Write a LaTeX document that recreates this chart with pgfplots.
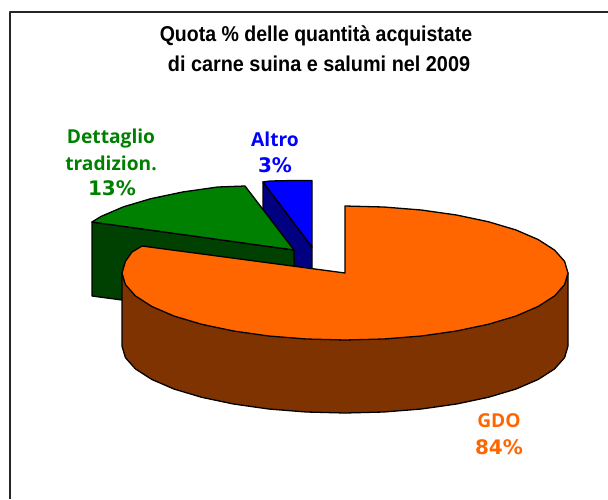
\documentclass[border=0pt]{standalone}
\usepackage{pgfplots}
\usepackage{fontspec}
\pgfplotsset{compat=1.18}
\setmainfont{Liberation Sans}
\newfontfamily\lab{Open Sans}
\newfontfamily\num{DejaVu Sans}
\newfontfamily\tita[FakeStretch=0.908]{Liberation Sans}
\newfontfamily\titb[FakeStretch=0.923]{Liberation Sans}
\definecolor{og}{HTML}{FF6600}
\definecolor{br}{HTML}{7F3300}
\definecolor{gn}{HTML}{008000}
\definecolor{dgn}{HTML}{004000}
\definecolor{bl}{HTML}{0000FF}
\definecolor{dbl}{HTML}{000080}
\tikzset{
  lbl/.style={font=\lab\bfseries\fontsize{19.2}{19.2}\selectfont},
  nbl/.style={font=\num\bfseries\fontsize{20}{20}\selectfont},
}
\begin{document}
\begin{tikzpicture}
\begin{axis}[
  scale only axis, width=608pt, height=499pt,
  xmin=0, xmax=608, ymin=0, ymax=499, y dir=reverse,
  hide axis, clip=true,
  every axis plot/.append style={draw=black, line width=1.3pt, line join=round, no markers},
]
% page
\addplot[draw=none, fill=white] coordinates {(0,0)(608,0)(608,499)(0,499)} --cycle;
% frame
\addplot[draw=black!85, line width=2pt] coordinates {(10,498.5)(10,11.5)(607.5,11.5)};
% Altro
\addplot[fill=dbl] coordinates {(263,182)(312,247)(312,290)(263,290)} --cycle;
\addplot[fill=bl] coordinates {(263,182)(270,181)(292.6,180.5)(312,180.5)(312,247)} --cycle;
% Dettaglio
\addplot[fill=dgn] coordinates {(92,222)(294,250)(295,323)(92,296)} --cycle;
\addplot[fill=gn] coordinates {(92,222)(100.9,216.5)(123.2,206.9)(150.7,198.7)(182.5,192)(217.7,187)(245,186)(294,250)} --cycle;
% GDO side
\addplot[fill=br] coordinates {(122,273)(122,346)(125.4,357.6)(135.4,368.9)(151.9,379.5)(174.2,389.1)(201.7,397.3)(233.5,404)(268.7,409)(306.3,412)(345,413)(383.7,412)(421.3,409)(456.5,404)(488.3,397.3)(515.8,389.1)(538.1,379.5)(554.6,368.9)(564.6,357.6)(568,346)(568,273)} --cycle;
% GDO top
\addplot[fill=og] coordinates {(345,206)(383.7,207)(421.3,210)(456.5,215)(488.3,221.7)(515.8,229.9)(538.1,239.5)(554.6,250.1)(564.6,261.4)(568,273)(564.6,284.6)(554.6,295.9)(538.1,306.5)(515.8,316.1)(488.3,324.3)(456.5,331)(421.3,336)(383.7,339)(345,340)(306.3,339)(268.7,336)(233.5,331)(201.7,324.3)(174.2,316.1)(151.9,306.5)(135.4,295.9)(125.4,284.6)(122,273)(125.4,261.4)(132,252)(142,246)(345,273)} --cycle;
% text
\node[font=\tita\bfseries\fontsize{21.5}{21.5}\selectfont] at (axis cs:316,36) {Quota \% delle quantità acquistate};
\node[font=\titb\bfseries\fontsize{21.5}{21.5}\selectfont] at (axis cs:319,64) {di carne suina e salumi nel 2009};
\node[text=gn, lbl] at (axis cs:111,139) {Dettaglio};
\node[text=gn, lbl] at (axis cs:111,163) {tradizion.};
\node[text=gn, nbl] at (axis cs:112,188) {13\%};
\node[text=bl, lbl] at (axis cs:275,139) {Altro};
\node[text=bl, nbl] at (axis cs:275,165) {3\%};
\node[text=og, lbl] at (axis cs:499,421) {GDO};
\node[text=og, nbl] at (axis cs:499,447) {84\%};
\end{axis}
\end{tikzpicture}
\end{document}
